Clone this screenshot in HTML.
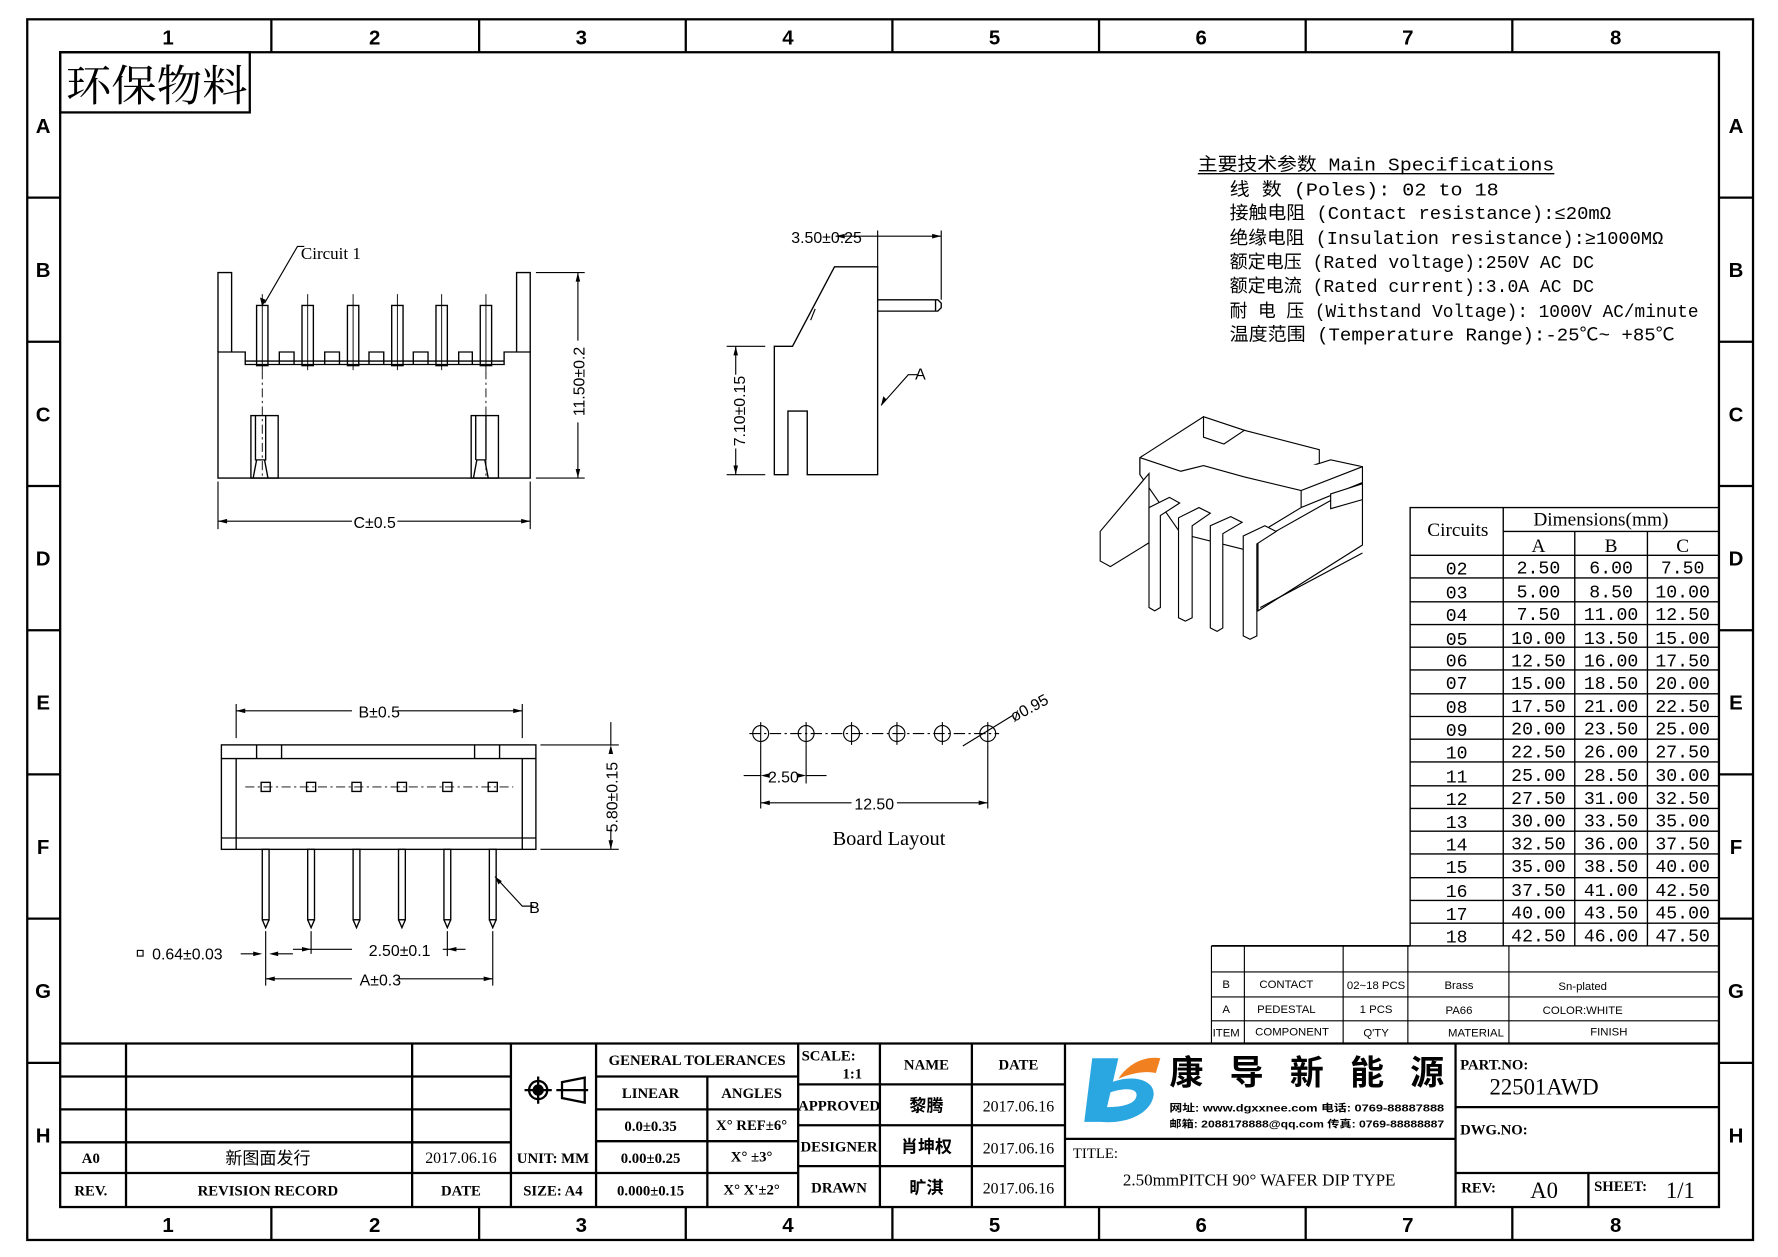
<!DOCTYPE html>
<html><head><meta charset="utf-8"><style>
html,body{margin:0;padding:0;background:#fff}
svg{display:block}
text{font-family:"Liberation Sans","Noto Sans CJK SC",sans-serif;fill:#000}
.s,.s text{font-family:"Liberation Serif","Noto Serif CJK SC","Noto Sans CJK SC",serif}
.m,.m text{font-family:"Liberation Mono","Noto Sans CJK SC",monospace}
</style></head><body>
<svg width="1778" height="1257" viewBox="0 0 1566 1107" preserveAspectRatio="none" xmlns="http://www.w3.org/2000/svg">
<rect width="1566" height="1107" fill="#fff"/>
<g fill="none" stroke="#000" stroke-width="2">
<rect x="24" y="17" width="1520" height="1075"/>
<rect x="53" y="46" width="1461" height="1017"/>
<path d="M239 17V46M422 17V46M604 17V46M786 17V46M968 17V46M1150 17V46M1332 17V46M239 1063V1092M422 1063V1092M604 1063V1092M786 1063V1092M968 1063V1092M1150 1063V1092M1332 1063V1092"/>
<path d="M24 174H53M24 301H53M24 428H53M24 555H53M24 682H53M24 809H53M24 936H53M1514 174H1544M1514 301H1544M1514 428H1544M1514 555H1544M1514 682H1544M1514 809H1544M1514 936H1544"/>
<rect x="53" y="46" width="167" height="53"/>
</g>
<g font-size="18" text-anchor="middle" font-weight="bold">
<text x="148" y="39">1</text><text x="330" y="39">2</text><text x="512" y="39">3</text><text x="694" y="39">4</text><text x="876" y="39">5</text><text x="1058" y="39">6</text><text x="1240" y="39">7</text><text x="1423" y="39">8</text>
<text x="148" y="1085">1</text><text x="330" y="1085">2</text><text x="512" y="1085">3</text><text x="694" y="1085">4</text><text x="876" y="1085">5</text><text x="1058" y="1085">6</text><text x="1240" y="1085">7</text><text x="1423" y="1085">8</text>
<text x="38" y="117">A</text><text x="38" y="244">B</text><text x="38" y="371">C</text><text x="38" y="498">D</text><text x="38" y="625">E</text><text x="38" y="752">F</text><text x="38" y="879">G</text><text x="38" y="1006">H</text>
<text x="1529" y="117">A</text><text x="1529" y="244">B</text><text x="1529" y="371">C</text><text x="1529" y="498">D</text><text x="1529" y="625">E</text><text x="1529" y="752">F</text><text x="1529" y="879">G</text><text x="1529" y="1006">H</text>
</g>
<text x="58" y="89" font-size="38" class="s" textLength="160" lengthAdjust="spacingAndGlyphs">环保物料</text>

<!-- Top-left front view -->
<g fill="none" stroke="#000" stroke-width="1.2">
<path d="M192 310V240H204V310"/>
<path d="M455 310V240H467V310"/>
<path d="M192 310H216V321H444V310H467V421H192Z"/>
<rect x="226" y="269" width="10" height="53"/><rect x="266" y="269" width="10" height="53"/><rect x="306" y="269" width="10" height="53"/><rect x="345" y="269" width="10" height="53"/><rect x="384" y="269" width="10" height="53"/><rect x="423" y="269" width="10" height="53"/>
<path d="M246 321V310H259V321M286 321V310H299V321M325 321V310H338V321M364 321V310H377V321M404 321V310H416V321"/>
<path d="M216 318H444"/>
<rect x="221" y="366" width="24" height="55"/><rect x="415" y="366" width="24" height="55"/>
<path d="M225 366V405H234V366M419 405V366M428 366V405H419"/>
<path d="M226 405L223 421M233 405L236 421M420 405L417 421M427 405L430 421"/>
<path d="M231 259V326M271 259V326M311 259V326M350 259V326M389 259V326M428 259V326" stroke-width="0.8"/>
<path d="M231 326V420M428 326V420" stroke-dasharray="8,3,2,3" stroke-width="0.8"/>
<path d="M472 240H515M472 421H515M509 240V300M509 372V421M192 424V466M467 424V466M192 459H310M350 459H467" stroke-width="1"/>
<path d="M233 267L262 217H268" stroke-width="1"/>
</g>
<path d="M231 270l-2-8 5 2z M509 240l-2 8h4z M509 421l-2-8h4z M192 459l8-2v4z M467 459l-8-2v4z"/>
<text x="265" y="228" font-size="15" class="s">Circuit 1</text>
<text x="330" y="465" font-size="14" text-anchor="middle">C±0.5</text>
<text transform="translate(515 336) rotate(-90)" font-size="14" text-anchor="middle">11.50±0.2</text>

<!-- Side view -->
<g fill="none" stroke="#000" stroke-width="1.2">
<path d="M682 305H698L735 235H773V418H711V362H694V418H682Z"/>
<path d="M773 264H826L829 267V271L826 274H773M824 264V274"/>
<path d="M773 235V203M829 264V203M736 208H829M674 305H640M674 418H640M648 305V330M648 395V418M776 357L800 330H808" stroke-width="1"/>
<path d="M718 272L714 282" stroke-width="1"/>
</g>
<path d="M736 208l8-2v4zM829 208l-8-2v4zM648 305l-2 8h4zM648 418l-2-8h4zM776 357l2-8 3 3z"/>
<text x="728" y="214" font-size="14" text-anchor="middle">3.50±0.25</text>
<text x="806" y="334" font-size="14">A</text>
<text transform="translate(656 362) rotate(-90)" font-size="14" text-anchor="middle">7.10±0.15</text>

<!-- Board layout -->
<g fill="none" stroke="#000" stroke-width="1">
<path d="M660 646H880" stroke-dasharray="10,3,2,3"/>
<circle cx="670" cy="646" r="7"/><circle cx="710" cy="646" r="7"/><circle cx="750" cy="646" r="7"/><circle cx="790" cy="646" r="7"/><circle cx="830" cy="646" r="7"/><circle cx="870" cy="646" r="7"/>
<path d="M670 636V656M710 636V656M750 636V656M790 636V656M830 636V656M870 636V656"/>
<path d="M670 656V712M710 656V690M870 656V712M655 683H670M710 683H728M670 707H750M790 707H870M848 657L892 630"/>
</g>
<path d="M670 683l8-2v4zM710 683l-8-2v4zM670 707l8-2v4zM870 707l-8-2v4z"/>
<text x="690" y="689" font-size="14" text-anchor="middle">2.50</text>
<text x="770" y="713" font-size="14" text-anchor="middle">12.50</text>
<text transform="translate(893 636) rotate(-28)" font-size="14">ø0.95</text>
<text x="783" y="744" font-size="18" class="s" text-anchor="middle">Board Layout</text>

<!-- Bottom view -->
<g fill="none" stroke="#000" stroke-width="1.2">
<rect x="195" y="656" width="277" height="92"/>
<path d="M208 748V668H460V748M195 668H208M460 668H472M195 738H472"/>
<path d="M226 656V668M248 656V668M418 656V668M440 656V668"/>
<rect x="231" y="748" width="6" height="62"/><rect x="271" y="748" width="6" height="62"/><rect x="311" y="748" width="6" height="62"/><rect x="351" y="748" width="6" height="62"/><rect x="391" y="748" width="6" height="62"/><rect x="431" y="748" width="6" height="62"/>
<path d="M231 810L234 817L237 810M271 810L274 817L277 810M311 810L314 817L317 810M351 810L354 817L357 810M391 810L394 817L397 810M431 810L434 817L437 810"/>
<rect x="230" y="689" width="8" height="8"/><rect x="270" y="689" width="8" height="8"/><rect x="310" y="689" width="8" height="8"/><rect x="350" y="689" width="8" height="8"/><rect x="390" y="689" width="8" height="8"/><rect x="430" y="689" width="8" height="8"/>
<path d="M216 693H452" stroke-width="0.8" stroke-dasharray="8,3,2,3"/>
<path d="M208 650V620M460 650V620M208 626H310M350 626H460M476 656H545M476 748H545M538 636V656M538 748V730M234 820V868M434 820V868M234 862H310M350 862H434M274 820V840M394 820V842M258 836H310M390 836H410M212 840H228M240 840H258M436 772L460 798H470" stroke-width="1"/>
</g>
<path d="M208 626l8-2v4zM460 626l-8-2v4zM538 656l-2 8h4zM538 748l-2-8h4zM234 862l8-2v4zM434 862l-8-2v4zM274 836l-8-2v4zM394 836l8-2v4zM231 840l-8-2v4zM237 840l8-2v4zM436 772l3 7 3-3z"/>
<text x="334" y="632" font-size="14" text-anchor="middle">B±0.5</text>
<text transform="translate(544 702) rotate(-90)" font-size="14" text-anchor="middle">5.80±0.15</text>
<text x="335" y="868" font-size="14" text-anchor="middle">A±0.3</text>
<text x="352" y="842" font-size="14" text-anchor="middle">2.50±0.1</text>
<text x="466" y="804" font-size="14">B</text>
<rect x="121" y="837" width="5" height="5" fill="none" stroke="#000"/>
<text x="134" y="845" font-size="14">0.64±0.03</text>

<!-- 3D view -->
<g fill="#fff" stroke="#000" stroke-width="1">
<path d="M1004 403L1060 367L1096 379L1162 396V408L1134 417L1172 405L1200 411V480L1108 538H1102L1100 485L1040 470L1004 418Z"/>
<path d="M1004 403V418M1004 403L1040 415L1060 410L1096 420L1146 432L1200 411M1146 432V447L1200 425M1146 447L1108 470M1060 367L1096 379L1078 391L1060 385Z"/>
<path d="M1012 417L969 468V494L978 499L1012 478Z"/>
<path d="M1108 470L1120 470L1200 425M1108 538V470M1110 535L1200 487"/>
<path d="M1012 447V535L1017 538L1022 535V454L1039 443L1030 438Z"/>
<path d="M1038 456V544L1044 547L1050 544V463L1066 452L1056 447Z"/>
<path d="M1066 463V553L1072 556L1077 553V470L1094 460L1084 455Z"/>
<path d="M1095 472V560L1101 563L1107 560V479L1124 468L1114 463Z"/>
<path d="M1172 435L1200 426V440L1172 448Z"/>
</g>

<!-- Specs -->
<g class="m" font-size="16">
<text x="1055" y="150" textLength="314" lengthAdjust="spacingAndGlyphs">主要技术参数 Main Specifications</text>
<path d="M1055 153H1369" stroke="#000" stroke-width="1.2"/>
<text x="1083" y="172" textLength="237" lengthAdjust="spacingAndGlyphs">线   数 (Poles): 02 to 18</text>
<text x="1083" y="193" textLength="336" lengthAdjust="spacingAndGlyphs">接触电阻 (Contact resistance):≤20mΩ</text>
<text x="1083" y="215" textLength="382" lengthAdjust="spacingAndGlyphs">绝缘电阻 (Insulation resistance):≥1000MΩ</text>
<text x="1083" y="236" textLength="321" lengthAdjust="spacingAndGlyphs">额定电压 (Rated voltage):250V AC DC</text>
<text x="1083" y="257" textLength="321" lengthAdjust="spacingAndGlyphs">额定电流 (Rated current):3.0A AC DC</text>
<text x="1083" y="279" textLength="413" lengthAdjust="spacingAndGlyphs">耐 电 压 (Withstand Voltage): 1000V AC/minute</text>
<text x="1083" y="300" textLength="392" lengthAdjust="spacingAndGlyphs">温度范围 (Temperature Range):-25℃~ +85℃</text>
</g>

<!-- Dimensions table -->
<g fill="none" stroke="#000" stroke-width="1.2">
<rect x="1242" y="447" width="272" height="386"/>
<path d="M1324 447V833M1387 468V833M1451 468V833M1324 468H1514M1242 489H1514"/>
<path d="M1242 509H1514M1242 530H1514M1242 550H1514M1242 570H1514M1242 590H1514M1242 611H1514M1242 631H1514M1242 651H1514M1242 671H1514M1242 692H1514M1242 712H1514M1242 732H1514M1242 752H1514M1242 773H1514M1242 793H1514M1242 813H1514"/>
</g>
<g class="s" font-size="17" text-anchor="middle">
<text x="1284" y="472">Circuits</text><text x="1410" y="463">Dimensions(mm)</text>
<text x="1355" y="486">A</text><text x="1419" y="486">B</text><text x="1482" y="486">C</text>
</g>
<g class="m" font-size="16" text-anchor="middle">
<text x="1283" y="506">02</text><text x="1355" y="505">2.50</text><text x="1419" y="505">6.00</text><text x="1482" y="505">7.50</text>
<text x="1283" y="527">03</text><text x="1355" y="526">5.00</text><text x="1419" y="526">8.50</text><text x="1482" y="526">10.00</text>
<text x="1283" y="547">04</text><text x="1355" y="546">7.50</text><text x="1419" y="546">11.00</text><text x="1482" y="546">12.50</text>
<text x="1283" y="568">05</text><text x="1355" y="567">10.00</text><text x="1419" y="567">13.50</text><text x="1482" y="567">15.00</text>
<text x="1283" y="587">06</text><text x="1355" y="587">12.50</text><text x="1419" y="587">16.00</text><text x="1482" y="587">17.50</text>
<text x="1283" y="607">07</text><text x="1355" y="607">15.00</text><text x="1419" y="607">18.50</text><text x="1482" y="607">20.00</text>
<text x="1283" y="628">08</text><text x="1355" y="627">17.50</text><text x="1419" y="627">21.00</text><text x="1482" y="627">22.50</text>
<text x="1283" y="648">09</text><text x="1355" y="647">20.00</text><text x="1419" y="647">23.50</text><text x="1482" y="647">25.00</text>
<text x="1283" y="668">10</text><text x="1355" y="667">22.50</text><text x="1419" y="667">26.00</text><text x="1482" y="667">27.50</text>
<text x="1283" y="689">11</text><text x="1355" y="688">25.00</text><text x="1419" y="688">28.50</text><text x="1482" y="688">30.00</text>
<text x="1283" y="709">12</text><text x="1355" y="708">27.50</text><text x="1419" y="708">31.00</text><text x="1482" y="708">32.50</text>
<text x="1283" y="729">13</text><text x="1355" y="728">30.00</text><text x="1419" y="728">33.50</text><text x="1482" y="728">35.00</text>
<text x="1283" y="749">14</text><text x="1355" y="748">32.50</text><text x="1419" y="748">36.00</text><text x="1482" y="748">37.50</text>
<text x="1283" y="769">15</text><text x="1355" y="768">35.00</text><text x="1419" y="768">38.50</text><text x="1482" y="768">40.00</text>
<text x="1283" y="790">16</text><text x="1355" y="789">37.50</text><text x="1419" y="789">41.00</text><text x="1482" y="789">42.50</text>
<text x="1283" y="810">17</text><text x="1355" y="809">40.00</text><text x="1419" y="809">43.50</text><text x="1482" y="809">45.00</text>
<text x="1283" y="830">18</text><text x="1355" y="829">42.50</text><text x="1419" y="829">46.00</text><text x="1482" y="829">47.50</text>
</g>

<!-- BOM -->
<g fill="none" stroke="#000" stroke-width="1">
<path d="M1067 833V919M1096 833V919M1183 833V919M1240 833V919M1329 833V919M1067 856H1514M1067 878H1514M1067 899H1514" />
<path d="M1067 833H1242" stroke-width="1.5"/>
</g>
<g font-size="10" text-anchor="middle">
<text x="1080" y="870">B</text><text x="1133" y="870">CONTACT</text><text x="1212" y="871">02~18 PCS</text><text x="1285" y="871">Brass</text><text x="1394" y="872">Sn-plated</text>
<text x="1080" y="892">A</text><text x="1133" y="892">PEDESTAL</text><text x="1212" y="892">1  PCS</text><text x="1285" y="893">PA66</text><text x="1394" y="893">COLOR:WHITE</text>
<text x="1080" y="913">ITEM</text><text x="1138" y="912">COMPONENT</text><text x="1212" y="913">Q'TY</text><text x="1300" y="913">MATERIAL</text><text x="1417" y="912">FINISH</text>
</g>

<!-- Title block -->
<g fill="none" stroke="#000" stroke-width="2">
<path d="M53 919H1514"/>
<path d="M53 948H450M53 977H450M53 1006H450M53 1033H525M111 919V1063M363 919V1063M450 919V1063M525 919V1063"/>
<path d="M525 948H703M525 977H703M525 1005H703M525 1033H703M623 948V1063M703 919V1063"/>
<path d="M703 955H938M703 991H938M703 1027H938M775 919V1063M856 919V1063M938 919V1063"/>
<path d="M938 1003H1282M1282 919V1063M1282 975H1514M1282 1033H1514M1399 1033V1063"/>
</g>
<g class="s" font-size="13" text-anchor="middle" font-weight="bold">
<text x="80" y="1024">A0</text><text x="80" y="1053">REV.</text>
<text x="236" y="1053">REVISION RECORD</text><text x="406" y="1053">DATE</text>
<text x="406" y="1024" font-weight="normal" font-size="14">2017.06.16</text>
<text x="487" y="1024">UNIT: MM</text><text x="487" y="1053">SIZE: A4</text>
<text x="614" y="938">GENERAL TOLERANCES</text>
<text x="573" y="967">LINEAR</text><text x="662" y="967">ANGLES</text>
<text x="573" y="996">0.0±0.35</text><text x="662" y="995">X° REF±6°</text>
<text x="573" y="1024">0.00±0.25</text><text x="662" y="1023">X° ±3°</text>
<text x="573" y="1053">0.000±0.15</text><text x="662" y="1052">X° X'±2°</text>
<text x="816" y="942">NAME</text><text x="897" y="942">DATE</text>
<text x="739" y="978">APPROVED</text><text x="739" y="1014">DESIGNER</text><text x="739" y="1050">DRAWN</text>
<text x="897" y="979" font-weight="normal" font-size="14">2017.06.16</text><text x="897" y="1016" font-weight="normal" font-size="14">2017.06.16</text><text x="897" y="1051" font-weight="normal" font-size="14">2017.06.16</text>
<text x="1360" y="964" font-size="20" font-weight="normal">22501AWD</text>
<text x="1360" y="1055" font-size="20" font-weight="normal">A0</text>
<text x="1480" y="1055" font-size="20" font-weight="normal">1/1</text>
<text x="1109" y="1044" font-weight="normal" font-size="15">2.50mmPITCH 90° WAFER DIP TYPE</text>
</g>
<g class="s" font-size="13" font-weight="bold">
<text x="706" y="934">SCALE:</text><text x="742" y="950">1:1</text>
<text x="945" y="1020" font-weight="normal">TITLE:</text>
<text x="1286" y="942">PART.NO:</text><text x="1286" y="999">DWG.NO:</text>
<text x="1287" y="1050">REV:</text><text x="1404" y="1049">SHEET:</text>
</g>
<text x="236" y="1025" font-size="15" text-anchor="middle">新图面发行</text>
<text x="816" y="979" font-size="15" text-anchor="middle" font-weight="bold">黎腾</text>
<text x="816" y="1015" font-size="15" text-anchor="middle" font-weight="bold">肖坤权</text>
<text x="816" y="1051" font-size="15" text-anchor="middle" font-weight="bold">旷淇</text>
<g fill="none" stroke="#000" stroke-width="2">
<circle cx="474" cy="960" r="8"/><circle cx="474" cy="960" r="4" fill="#000"/>
<path d="M462 960H486M474 948V972M495 953L515 949V971L495 967ZM490 960H518"/>
</g>
<!-- logo -->
<path d="M962 932H985L972 988H955Z" fill="#2aa6e0"/>
<path d="M975 955C995 945 1018 950 1016 965C1013 982 990 990 970 988L974 975C990 975 1000 972 1001 965C1002 958 990 958 978 962Z" fill="#2aa6e0"/>
<path d="M985 950C995 935 1010 930 1022 932L1018 945C1008 943 997 945 985 950Z" fill="#f08020"/>
<g font-size="30" font-weight="bold" font-family="'Noto Sans CJK SC',sans-serif">
<text x="1030" y="955">康</text><text x="1083" y="955">导</text><text x="1136" y="955">新</text><text x="1189" y="955">能</text><text x="1242" y="955">源</text>
</g>
<text x="1030" y="979" font-size="9" font-weight="bold" textLength="242" lengthAdjust="spacingAndGlyphs">网址: www.dgxxnee.com   电话: 0769-88887888</text>
<text x="1030" y="993" font-size="9" font-weight="bold" textLength="242" lengthAdjust="spacingAndGlyphs">邮箱: 2088178888@qq.com 传真: 0769-88888887</text>
</svg>
</body></html>
